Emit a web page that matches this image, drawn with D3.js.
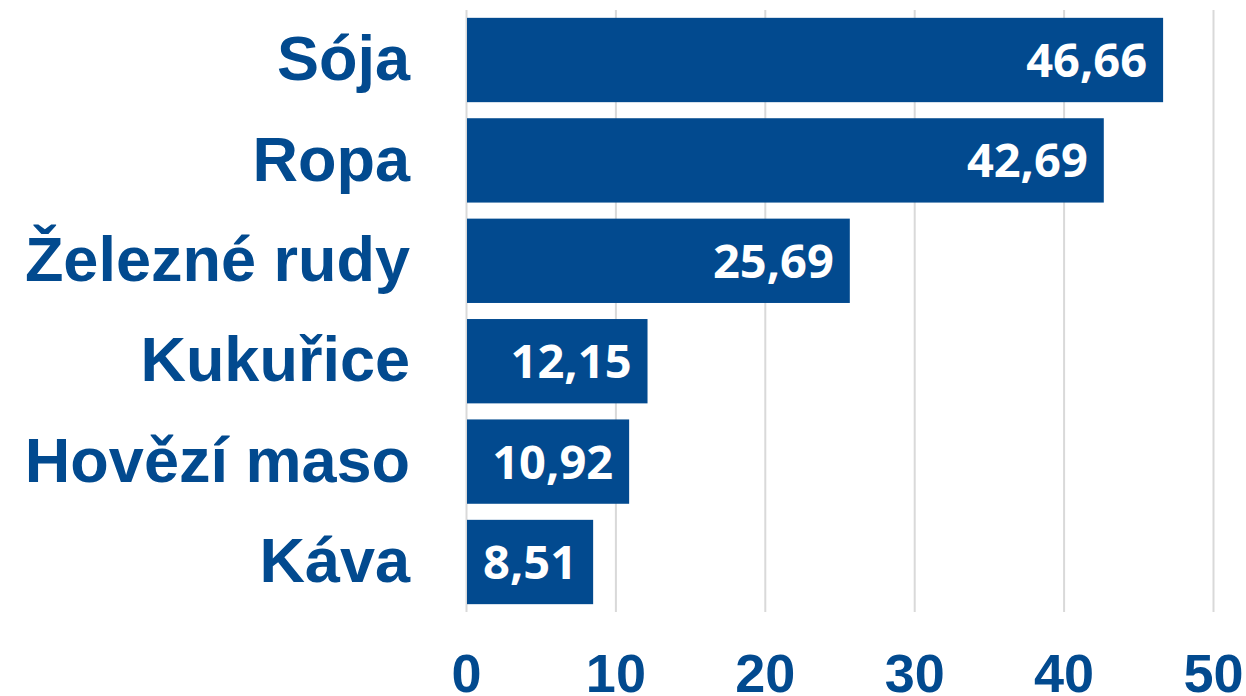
<!DOCTYPE html>
<html>
<head>
<meta charset="utf-8">
<script src="https://cdn.jsdelivr.net/npm/d3@7"></script>
<style>
  body { margin: 0; background: #fff; }
</style>
</head>
<body>
<div id="chart"></div>
<script>
const categories = ["Sója", "Ropa", "Železné rudy", "Kukuřice", "Hovězí maso", "Káva"];
const values = [46.66, 42.69, 25.69, 12.15, 10.92, 8.51];
const xTickValues = [0, 10, 20, 30, 40, 50];

const width = 1246;
const height = 696;
const margin = {t: 10, b: 84, l: 466, r: 33};
const blue = "#024a8f";

const svg = d3.select("#chart")
    .append("svg")
    .attr("width", width)
    .attr("height", height)
    .attr("viewBox", [0, 0, width, height]);

const data = categories.map((c, i) => ({name: c, value: values[i]}));

// scales
const xScale = d3.scaleLinear()
    .domain([0, 50])
    .range([margin.l, width - margin.r]);

const yScale = d3.scaleBand()
    .domain(categories)
    .range([margin.t, height - margin.b])
    .paddingInner(0.16)
    .paddingOuter(0.078);

// grid lines
svg.append("g")
    .attr("transform", `translate(0, ${height - margin.b})`)
    .call(d3.axisBottom(xScale).tickValues(xTickValues).tickSize(-(height - margin.b - margin.t)).tickFormat(""))
    .call(g => g.select(".domain").remove())
    .call(g => g.selectAll("line").attr("stroke", "#d9d9d9").attr("stroke-width", 2));

// x axis labels
svg.append("g")
    .attr("transform", `translate(0, ${height - margin.b})`)
    .call(d3.axisBottom(xScale).tickValues(xTickValues).tickSize(0).tickPadding(42))
    .call(g => g.select(".domain").remove())
    .call(g => g.selectAll("text")
        .attr("fill", blue)
        .attr("font-family", "'Liberation Sans', Arial, sans-serif")
        .attr("font-weight", "bold")
        .attr("font-size", "54px"));

// y axis labels
svg.append("g")
    .attr("transform", `translate(${margin.l}, 0)`)
    .call(d3.axisLeft(yScale).tickSize(0).tickPadding(56))
    .call(g => g.select(".domain").remove())
    .call(g => g.selectAll("text")
        .attr("fill", blue)
        .attr("font-family", "'Liberation Sans', Arial, sans-serif")
        .attr("font-weight", "bold")
        .attr("font-size", "63px"));

// bars
svg.selectAll("rect.bar")
    .data(data)
    .enter()
    .append("rect")
    .attr("class", "bar")
    .attr("x", xScale(0) + 1)
    .attr("y", d => yScale(d.name))
    .attr("height", yScale.bandwidth())
    .attr("width", d => xScale(d.value) - xScale(0) - 1)
    .attr("fill", blue);

// value labels
svg.selectAll("text.val")
    .data(data)
    .enter()
    .append("text")
    .attr("class", "val")
    .attr("x", d => xScale(d.value) - 16)
    .attr("y", d => yScale(d.name) + yScale.bandwidth() / 2)
    .attr("dy", "0.36em")
    .attr("text-anchor", "end")
    .attr("fill", "#fff")
    .attr("font-family", "'Open Sans', sans-serif")
    .attr("font-weight", "bold")
    .attr("font-size", "47px")
    .text(d => d3.format(".2f")(d.value).replace(".", ","));
</script>
</body>
</html>
